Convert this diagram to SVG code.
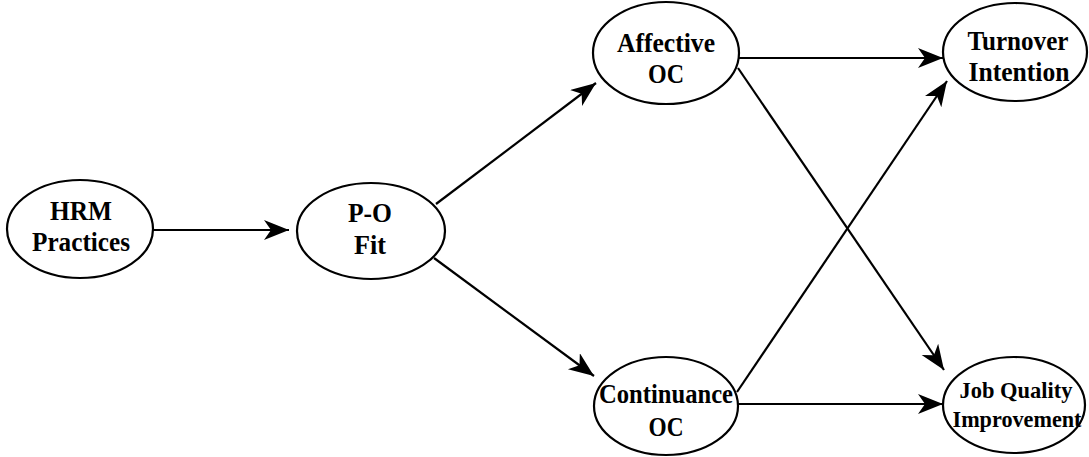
<svg xmlns="http://www.w3.org/2000/svg" width="1089" height="457" viewBox="0 0 1089 457">
<style>
.n{fill:#fff;stroke:#000;stroke-width:2.2}
.t{font-family:"Liberation Serif","Times New Roman",serif;font-weight:bold;font-size:28px;text-anchor:middle;fill:#000}
.s{font-size:23px}
.c{stroke:#000;stroke-width:2.2;fill:none;marker-end:url(#ah)}
</style>
<defs>
<marker id="ah" markerUnits="userSpaceOnUse" markerWidth="28" markerHeight="22" refX="25" refY="10" orient="auto">
<path d="M0,0 L25,10 L0,20 L7,10 Z" fill="#000"/>
</marker>
</defs>
<g id="connectors">
<line class="c" x1="153" y1="230" x2="289" y2="230"/>
<line class="c" x1="436" y1="204" x2="596" y2="83"/>
<line class="c" x1="434" y1="258" x2="594" y2="376"/>
<line class="c" x1="739" y1="58" x2="943" y2="58"/>
<line class="c" x1="738" y1="68" x2="944" y2="370"/>
<line class="c" x1="737" y1="392" x2="947" y2="81"/>
<line class="c" x1="738" y1="404" x2="943" y2="404"/>
</g>
<g id="hrm"><ellipse class="n" cx="80" cy="229" rx="73" ry="49"/><text class="t" x="81" y="220" textLength="62" lengthAdjust="spacingAndGlyphs">HRM</text><text class="t" x="81" y="251" textLength="98" lengthAdjust="spacingAndGlyphs">Practices</text></g>
<g id="pofit"><ellipse class="n" cx="371" cy="231" rx="74" ry="48"/><text class="t" x="370" y="222" textLength="44" lengthAdjust="spacingAndGlyphs">P-O</text><text class="t" x="370" y="254" textLength="32" lengthAdjust="spacingAndGlyphs">Fit</text></g>
<g id="affective"><ellipse class="n" cx="666" cy="53" rx="73" ry="51"/><text class="t" x="666" y="52" textLength="98" lengthAdjust="spacingAndGlyphs">Affective</text><text class="t" x="666" y="83" textLength="36" lengthAdjust="spacingAndGlyphs">OC</text></g>
<g id="turnover"><ellipse class="n" cx="1015" cy="52" rx="72" ry="49"/><text class="t" x="1018" y="50" textLength="101" lengthAdjust="spacingAndGlyphs">Turnover</text><text class="t" x="1019" y="81" textLength="101" lengthAdjust="spacingAndGlyphs">Intention</text></g>
<g id="continuance"><ellipse class="n" cx="666" cy="406" rx="72" ry="49"/><text class="t" x="666" y="403" textLength="134" lengthAdjust="spacingAndGlyphs">Continuance</text><text class="t" x="666" y="436" textLength="35" lengthAdjust="spacingAndGlyphs">OC</text></g>
<g id="jobquality"><ellipse class="n" cx="1014" cy="405" rx="71" ry="48"/><text class="t s" x="1016" y="398" textLength="113" lengthAdjust="spacingAndGlyphs">Job Quality</text><text class="t s" x="1017" y="427" textLength="129" lengthAdjust="spacingAndGlyphs">Improvement</text></g>
</svg>
